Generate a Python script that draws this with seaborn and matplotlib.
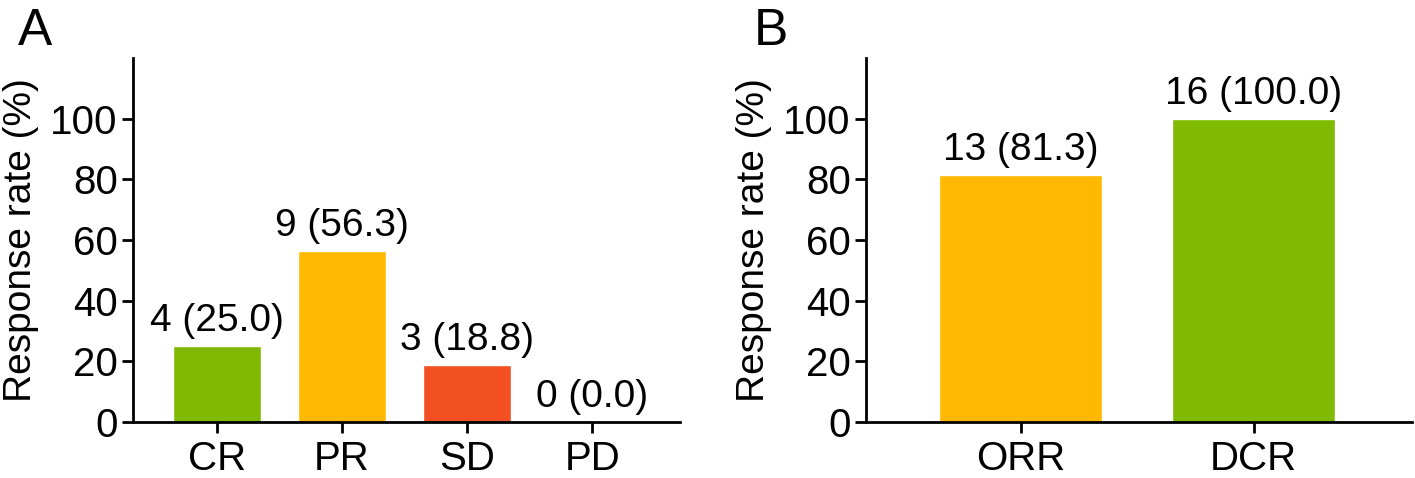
import matplotlib
matplotlib.use("Agg")
import matplotlib.pyplot as plt
import seaborn as sns
import pandas as pd

# panel A
resp_cats = ["CR", "PR", "SD", "PD"]
resp_n = [4, 9, 3, 0]
resp_pct = [25.0, 56.3, 18.8, 0.0]
resp_colors = ["#7FBA00", "#FFB900", "#F25022", "#BBBBBB"]

# panel B
rate_cats = ["ORR", "DCR"]
rate_n = [13, 16]
rate_pct = [81.3, 100.0]
rate_colors = ["#FFB900", "#7FBA00"]

sns.set_style("ticks")
plt.rcParams["font.family"] = ["Liberation Sans", "DejaVu Sans"]
plt.rcParams["text.color"] = "black"
plt.rcParams["axes.labelcolor"] = "black"
plt.rcParams["xtick.color"] = "black"
plt.rcParams["ytick.color"] = "black"

fig = plt.figure(figsize=(14.15, 4.78), dpi=100)
ax_a = fig.add_axes([0.094, 0.1172, 0.3866, 0.7615])
ax_b = fig.add_axes([0.612, 0.1172, 0.3859, 0.7615])


def draw(ax, cats, n, pct, colors, xlim):
    df = pd.DataFrame({"cat": cats, "pct": pct})
    sns.barplot(data=df, x="cat", y="pct", hue="cat", palette=colors,
                width=0.7, saturation=1, legend=False, ax=ax)
    for cont, k, p in zip(ax.containers, n, pct):
        ax.bar_label(cont, labels=[f"{k} ({p:.1f})"], padding=5, fontsize=28)
    ax.set_ylim(0, 120)
    ax.set_yticks(range(0, 101, 20))
    ax.set_xlim(*xlim)
    ax.set_xlabel("")
    ax.set_ylabel("Response rate (%)", fontsize=28, labelpad=8)
    ax.tick_params(axis="both", labelsize=29, width=2, length=8)
    ax.tick_params(axis="x", pad=5)
    ax.tick_params(axis="y", pad=3)
    for s in ["left", "bottom"]:
        ax.spines[s].set_linewidth(2)
        ax.spines[s].set_color("black")
    sns.despine(ax=ax)


draw(ax_a, resp_cats, resp_n, resp_pct, resp_colors, (-0.67, 3.7))
draw(ax_b, rate_cats, rate_n, rate_pct, rate_colors, (-0.665, 1.68))

fig.text(0.013, 0.985, "A", fontsize=37, va="top", ha="left")
fig.text(0.533, 0.985, "B", fontsize=37, va="top", ha="left")

fig.savefig("out.png", dpi=100)
